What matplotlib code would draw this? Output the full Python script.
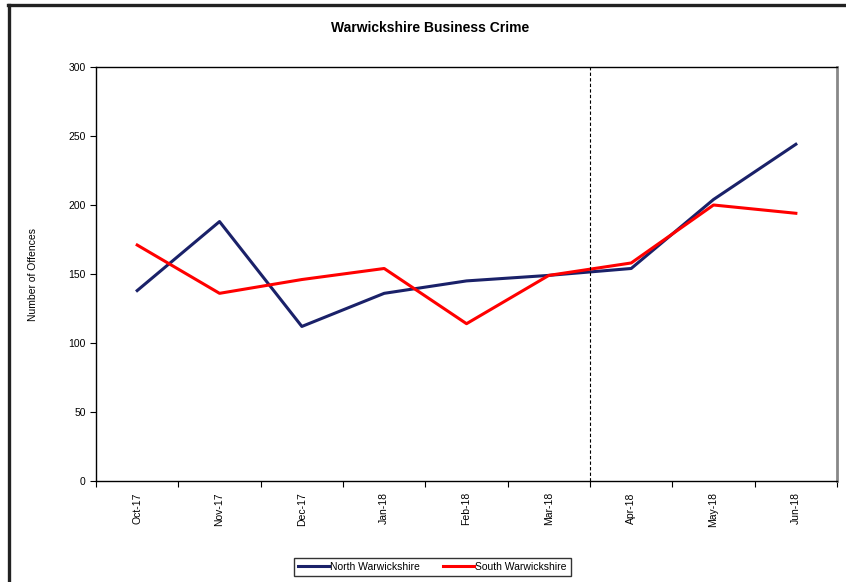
import matplotlib
matplotlib.use("Agg")
import matplotlib.pyplot as plt
from matplotlib.lines import Line2D

months = ["Oct-17", "Nov-17", "Dec-17", "Jan-18", "Feb-18", "Mar-18", "Apr-18", "May-18", "Jun-18"]
north = [138, 188, 112, 136, 145, 149, 154, 204, 244]
south = [171, 136, 146, 154, 114, 149, 158, 200, 194]
split_after = "Mar-18"

plt.rcParams['font.family'] = ['Liberation Sans', 'DejaVu Sans']

fig = plt.figure(figsize=(8.46, 5.82), dpi=100)
ax = fig.add_axes([0.1135, 0.1735, 0.8759, 0.7114])

x = list(range(len(months)))
ax.plot(x, north, color='#1a2169', linewidth=2.2, label="North Warwickshire")
ax.plot(x, south, color='#ff0000', linewidth=2.2, label="South Warwickshire")

split = months.index(split_after) + 0.5
ax.axvline(split, color='black', linestyle=(0, (3, 2)), linewidth=0.8)

ax.set_xlim(-0.5, len(months) - 0.5)
ax.set_ylim(0, 300)
ax.set_yticks(range(0, 301, 50))
ax.set_xticks(x)
ax.set_xticklabels(months, rotation=90, fontsize=7.5)
ax.set_xticks([i - 0.5 for i in range(len(months) + 1)], minor=True)
ax.tick_params(axis='x', which='major', length=0, pad=8)
ax.tick_params(axis='x', which='minor', length=4, direction='out', width=0.8)
ax.tick_params(axis='y', labelsize=7.5, length=4, direction='out', width=0.8)
ax.set_ylabel("Number of Offences", fontsize=7.5, labelpad=22)

for side in ['left', 'bottom', 'top']:
    ax.spines[side].set_linewidth(1.0)
    ax.spines[side].set_color('black')
ax.spines['right'].set_color('#888888')
ax.spines['right'].set_linewidth(2.0)

fig.text(0.508, 0.952, "Warwickshire Business Crime", ha='center', va='center',
         fontsize=10, fontweight='bold')

fig.legend(loc='center', bbox_to_anchor=(0.511, 0.026), ncol=2, fontsize=7.5,
           frameon=True, fancybox=False, edgecolor='black', handlelength=3,
           handletextpad=0.1, columnspacing=2.2, borderpad=0.4, borderaxespad=0)

# outer frame (top and left edges visible in the reference)
fig.add_artist(Line2D([0.0095, 1.0], [0.9915, 0.9915], color='#222222', linewidth=2.4,
                      transform=fig.transFigure))
fig.add_artist(Line2D([0.0112, 0.0112], [0.0, 0.9915], color='#222222', linewidth=2.4,
                      transform=fig.transFigure))

fig.savefig("out.png", dpi=100)
